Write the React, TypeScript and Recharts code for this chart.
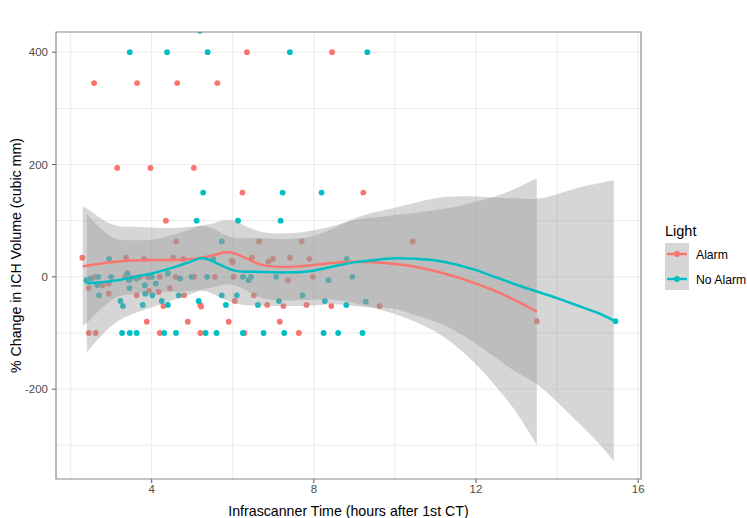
import React from 'react';
import {
  ComposedChart,
  Scatter,
  Area,
  Line,
  XAxis,
  YAxis,
  CartesianGrid,
  ReferenceArea,
} from 'recharts';

// ---------- data ----------
const seriesNames = ['Alarm', 'No Alarm'];
const seriesColors = ['#F8766D', '#00BFC4'];

const xTicks = [4, 8, 12, 16];
const yTicks = [-200, 0, 200, 400];
const gridX = [2, 4, 6, 8, 10, 12, 14, 16];
const gridY = [-300, -200, -100, 0, 100, 200, 300, 400];
const xDomain = [1.64, 16.07];
const yDomain = [-360, 436];

// observed points: Alarm
const alarmX = [
  6.35, 8.45, 2.58, 3.64, 4.63, 5.62, 3.15, 3.97, 5.04, 6.24, 9.22, 4.35,
  4.61, 6.65, 7.7, 10.44, 2.29, 3.37, 3.81, 4.53, 4.78, 5.98, 6.0, 6.47, 6.88, 6.99, 7.41, 7.89,
  2.45, 2.61, 2.79, 2.94, 3.35, 3.5, 3.71, 3.91, 4.2, 4.59, 5.05, 5.56, 6.02, 7.36, 7.98,
  2.94, 3.63, 3.93, 4.17, 4.45, 4.8, 6.52,
  4.29, 5.2, 5.22, 6.05, 6.85, 7.25, 7.82, 8.43, 9.62,
  3.88, 4.89, 5.9, 7.16,
  2.45, 2.62, 4.2, 5.2, 6.29, 7.63, 13.5,
];
const alarmY = [
  400, 400, 345, 345, 345, 345, 194, 194, 194, 150, 150, 100,
  63, 63, 63, 63, 34, 34, 32, 34, 32, 29, 26, 34, 27, 32, 34, 32,
  -20, 0, -15, -12, 1, -2, 0, -1, 0, 0, 0, 0, 0, -6, 0,
  -30, -33, -25, -27, -20, -33, -33,
  -52, -50, -53, -43, -50, -52, -50, -52, -52,
  -80, -80, -80, -80,
  -100, -100, -100, -100, -100, -100, -79,
];

// observed points: No Alarm
const noAlarmX = [
  5.19, 3.46, 4.38, 5.38, 7.41, 9.32, 5.27, 7.23, 8.19, 5.11, 6.13, 7.18, 5.73,
  2.95, 5.52, 8.81,
  2.39, 2.5, 2.68, 2.66, 3.0, 3.4, 3.44, 3.63, 3.83, 4.0, 4.1, 4.4, 4.7, 4.98, 5.37, 6.25, 6.39, 6.45, 7.07, 8.36, 8.95,
  2.7, 3.45, 3.84, 4.02, 4.67, 5.73, 6.1, 7.72,
  3.23, 3.29, 3.78, 4.25, 4.4, 5.16, 5.83, 6.62, 7.14, 8.27, 8.8, 9.28,
  3.27, 3.46, 3.63, 4.31, 4.6, 5.33, 5.6, 6.25, 6.76, 7.27, 8.24, 8.6, 9.2,
  15.44,
];
const noAlarmY = [
  438, 400, 400, 400, 400, 400, 150, 150, 150, 100, 100, 100, 63,
  32, 32, 32,
  -6, -3, 0, -15, 0, 6, -6, -3, -15, 0, -12, 6, -3, 0, 0, 0, -6, 0, 0, -6, 0,
  -33, -20, -30, -33, -33, -33, -33, -33,
  -43, -52, -50, -43, -50, -43, -50, -50, -43, -43, -50, -44,
  -100, -100, -100, -100, -100, -100, -100, -100, -100, -100, -100, -100, -100,
  -79,
];

// loess fit + confidence band: Alarm
const alarmFitX = [2.3, 2.5, 3, 3.5, 4, 4.5, 5, 5.5, 5.9, 6.3, 6.8, 7.5, 8, 8.5, 9, 9.5, 10, 10.5, 11, 11.5, 12, 12.5, 13, 13.5];
const alarmFit = [19, 21, 26, 29, 30, 30, 32, 38, 44, 34, 20, 18, 21, 25, 27, 26, 23, 18, 10, 0, -12, -26, -43, -62];
const alarmHi = [125, 117, 94, 89, 88, 87, 89, 95, 101, 91, 79, 78, 83, 91, 101, 106, 110, 114, 119, 125, 134, 144, 158, 176];
const alarmLo = [-87, -75, -42, -31, -28, -27, -25, -19, -13, -23, -39, -42, -41, -41, -47, -56, -66, -80, -98, -123, -156, -196, -242, -300];

// loess fit + confidence band: No Alarm
const noAlarmFitX = [2.4, 2.5, 3, 3.5, 4, 4.5, 5, 5.2, 5.5, 6, 6.5, 7, 7.5, 8, 8.5, 9, 9.5, 10, 10.5, 11, 11.5, 12, 12.5, 13, 13.5, 14, 14.5, 15, 15.4];
const noAlarmFit = [-11, -11, -8, -1, 6, 16, 28, 33, 28, 12, 9, 8, 8, 11, 19, 26, 30, 33, 32, 29, 22, 12, -1, -14, -26, -38, -51, -64, -78];
const noAlarmHi = [113, 104, 72, 65, 66, 74, 86, 91, 86, 70, 69, 68, 68, 73, 87, 104, 115, 123, 132, 140, 143, 143, 141, 140, 139, 147, 158, 166, 172];
const noAlarmLo = [-135, -126, -88, -67, -54, -42, -30, -25, -30, -46, -51, -52, -52, -51, -49, -52, -55, -57, -68, -80, -97, -119, -145, -170, -191, -223, -258, -294, -328];

const toPts = (xs: number[], ys: number[]) => xs.map((x, i) => ({ x, y: ys[i] }));
const toCurve = (xs: number[], fit: number[], lo: number[], hi: number[]) =>
  xs.map((x, i) => ({ x, fit: fit[i], band: [lo[i], hi[i]] }));

const alarmPts = toPts(alarmX, alarmY);
const noAlarmPts = toPts(noAlarmX, noAlarmY);
const alarmCurve = toCurve(alarmFitX, alarmFit, alarmLo, alarmHi);
const noAlarmCurve = toCurve(noAlarmFitX, noAlarmFit, noAlarmLo, noAlarmHi);

const FONT = '"Liberation Sans", Arial, Helvetica, sans-serif';

const dot = (color: string) => (props: any) => {
  const { cx, cy } = props;
  if (cx == null || cy == null) return <g />;
  return <circle cx={cx} cy={cy} r={2.9} fill={color} />;
};

const Legend = () => (
  <svg width={100} height={90} style={{ position: 'absolute', left: 655, top: 215, fontFamily: FONT }}>
    <text x={10} y={21} fontSize={14.5} fill="#000">Light</text>
    <rect x={10} y={28} width={24} height={47} fill="#d6d6d6" />
    {seriesNames.map((n, i) => (
      <g key={n}>
        <line x1={12} x2={32} y1={39 + i * 25} y2={39 + i * 25} stroke={seriesColors[i]} strokeWidth={2.4} />
        <circle cx={22} cy={39 + i * 25} r={2.9} fill={seriesColors[i]} />
        <text x={41} y={43.5 + i * 25} fontSize={12.2} fill="#000">{n}</text>
      </g>
    ))}
  </svg>
);

export default function App() {
  return (
    <div style={{ position: 'absolute', left: 0, top: 0, width: 747, height: 518, background: '#fff' }}>
      <ComposedChart
        width={747}
        height={518}
        margin={{ top: 32, right: 106, bottom: 0, left: 0 }}
        style={{ fontFamily: FONT }}
      >
        <CartesianGrid
          stroke="#ebebeb"
          strokeWidth={1}
          horizontalValues={gridY}
          verticalValues={gridX}
        />
        <XAxis
          type="number"
          dataKey="x"
          domain={xDomain}
          allowDataOverflow
          ticks={xTicks}
          height={39}
          axisLine={false}
          tickSize={4}
          tickMargin={2}
          tickLine={{ stroke: '#555' }}
          tick={{ fill: '#4d4d4d', fontSize: 11.5, fontFamily: FONT }}
          label={{
            value: 'Infrascanner Time (hours after 1st CT)',
            position: 'insideBottom',
            offset: 2,
            fill: '#000',
            fontSize: 14.2,
            fontFamily: FONT,
          }}
        />
        <YAxis
          type="number"
          dataKey="y"
          domain={yDomain}
          allowDataOverflow
          ticks={yTicks}
          width={56}
          axisLine={false}
          tickSize={4}
          tickMargin={4}
          tickLine={{ stroke: '#555' }}
          tick={{ fill: '#4d4d4d', fontSize: 11.5, fontFamily: FONT }}
          label={(p: any) => {
            const vb = p.viewBox || {};
            const cy = (vb.y ?? 32) + (vb.height ?? 447) / 2;
            const cx = 16;
            return (
              <text
                x={cx}
                y={cy}
                transform={`rotate(-90 ${cx} ${cy})`}
                textAnchor="middle"
                dominantBaseline="central"
                fontSize={14.2}
                fontFamily={FONT}
                fill="#000"
              >
                % Change in ICH Volume (cubic mm)
              </text>
            );
          }}
        />
        <Scatter data={alarmPts} dataKey="y" shape={dot(seriesColors[0])} isAnimationActive={false} zIndex={50} />
        <Scatter data={noAlarmPts} dataKey="y" shape={dot(seriesColors[1])} isAnimationActive={false} zIndex={50} />
        <Area
          data={alarmCurve}
          dataKey="band"
          type="natural"
          stroke="none"
          fill="#999999"
          fillOpacity={0.4}
          isAnimationActive={false}
          zIndex={100}
          activeDot={false}
        />
        <Area
          data={noAlarmCurve}
          dataKey="band"
          type="natural"
          stroke="none"
          fill="#999999"
          fillOpacity={0.4}
          isAnimationActive={false}
          zIndex={100}
          activeDot={false}
        />
        <Line
          data={alarmCurve}
          dataKey="fit"
          type="natural"
          stroke={seriesColors[0]}
          strokeWidth={2.5}
          dot={false}
          activeDot={false}
          isAnimationActive={false}
          zIndex={400}
        />
        <Line
          data={noAlarmCurve}
          dataKey="fit"
          type="natural"
          stroke={seriesColors[1]}
          strokeWidth={2.5}
          dot={false}
          activeDot={false}
          isAnimationActive={false}
          zIndex={400}
        />
        <ReferenceArea
          x1={xDomain[0]}
          x2={xDomain[1]}
          y1={yDomain[0]}
          y2={yDomain[1]}
          fill="none"
          stroke="#8a8a8a"
          strokeWidth={1.2}
          zIndex={500}
        />
      </ComposedChart>
      <Legend />
    </div>
  );
}
